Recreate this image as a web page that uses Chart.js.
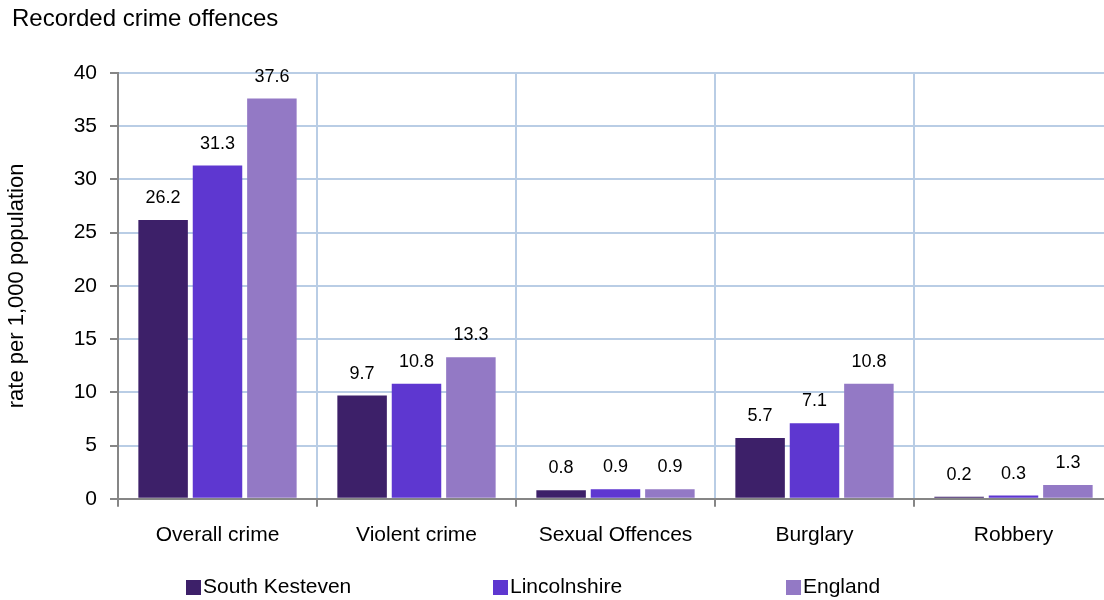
<!DOCTYPE html>
<html>
<head>
<meta charset="utf-8">
<script src="https://cdn.jsdelivr.net/npm/chart.js@4.4.1/dist/chart.umd.min.js"></script>
<style>
  html, body { margin: 0; padding: 0; background: #fff; overflow: hidden; }
  #wrap { width: 1104px; height: 600px; overflow: hidden; position: relative; }
  #box { width: 1114px; height: 600px; position: absolute; left: 0; top: 0; }
</style>
</head>
<body>
<div id="wrap"><div id="box"><canvas id="c"></canvas></div></div>
<script>
const chartTitle = 'Recorded crime offences';
const yAxisTitle = 'rate per 1,000 population';
const categories = ['Overall crime', 'Violent crime', 'Sexual Offences', 'Burglary', 'Robbery'];
const seriesNames = ['South Kesteven', 'Lincolnshire', 'England'];
const southKesteven = [26.2, 9.7, 0.8, 5.7, 0.2];
const lincolnshire = [31.3, 10.8, 0.9, 7.1, 0.3];
const england = [37.6, 13.3, 0.9, 10.8, 1.3];
const seriesColors = ['#3d2069', '#5e37d0', '#9379c5'];
const yMin = 0, yMax = 40, yStep = 5;

const FONT = "'Liberation Sans', Arial, sans-serif";
const GRID = '#b9cde5';
const AXIS = '#868686';

const titlePlugin = {
  id: 'customTitle',
  afterDraw(chart) {
    const ctx = chart.ctx;
    ctx.save();
    ctx.font = '24px ' + FONT;
    ctx.fillStyle = '#000';
    ctx.textAlign = 'left';
    ctx.textBaseline = 'middle';
    ctx.fillText(chartTitle, 12, 19);
    ctx.restore();
  }
};

const valueLabels = {
  id: 'valueLabels',
  afterDatasetsDraw(chart) {
    const ctx = chart.ctx;
    ctx.save();
    ctx.font = '18px ' + FONT;
    ctx.fillStyle = '#000';
    ctx.textAlign = 'center';
    ctx.textBaseline = 'middle';
    chart.data.datasets.forEach((ds, i) => {
      const meta = chart.getDatasetMeta(i);
      meta.data.forEach((bar, j) => {
        ctx.fillText(ds.data[j].toFixed(1), bar.x, bar.y - 22);
      });
    });
    ctx.restore();
  }
};

const legendOffsets = [68, 375, 668];
const bottomLegend = {
  id: 'bottomLegend',
  afterDraw(chart) {
    const ctx = chart.ctx;
    const left = chart.chartArea.left;
    const y = 587;
    ctx.save();
    ctx.font = '21px ' + FONT;
    ctx.textAlign = 'left';
    ctx.textBaseline = 'middle';
    chart.data.datasets.forEach((ds, i) => {
      const x = left + legendOffsets[i];
      ctx.fillStyle = ds.backgroundColor;
      ctx.fillRect(x, y - 7, 15, 15);
      ctx.fillStyle = '#000';
      ctx.fillText(ds.label, x + 17, y);
    });
    ctx.restore();
  }
};

new Chart(document.getElementById('c'), {
  type: 'bar',
  data: {
    labels: categories,
    datasets: [
      { label: seriesNames[0], data: southKesteven, backgroundColor: seriesColors[0] },
      { label: seriesNames[1], data: lincolnshire, backgroundColor: seriesColors[1] },
      { label: seriesNames[2], data: england, backgroundColor: seriesColors[2] }
    ]
  },
  options: {
    responsive: true,
    maintainAspectRatio: false,
    animation: false,
    categoryPercentage: 0.82,
    barPercentage: 0.91,
    layout: { padding: { top: 73, bottom: 36, left: 0, right: 1 } },
    plugins: {
      legend: { display: false },
      title: { display: false },
      tooltip: { enabled: false }
    },
    scales: {
      x: {
        offset: true,
        grid: { display: true, offset: true, color: GRID, lineWidth: 2, tickColor: AXIS, tickLength: 8, tickWidth: 2 },
        border: { display: true, color: AXIS, width: 2 },
        ticks: { color: '#000', font: { family: FONT, size: 21 }, padding: 16, maxRotation: 0, autoSkip: false }
      },
      y: {
        min: yMin, max: yMax,
        afterFit(scale) { scale.width = 118; },
        grid: { color: GRID, lineWidth: 2, tickColor: AXIS, tickLength: 8, tickWidth: 2 },
        border: { display: true, color: AXIS, width: 2 },
        ticks: { stepSize: yStep, color: '#000', font: { family: FONT, size: 21 }, padding: 13 },
        title: { display: true, text: yAxisTitle, color: '#000', font: { family: FONT, size: 22 }, padding: { top: 4, bottom: 0 } }
      }
    }
  },
  plugins: [titlePlugin, valueLabels, bottomLegend]
});
</script>
</body>
</html>
